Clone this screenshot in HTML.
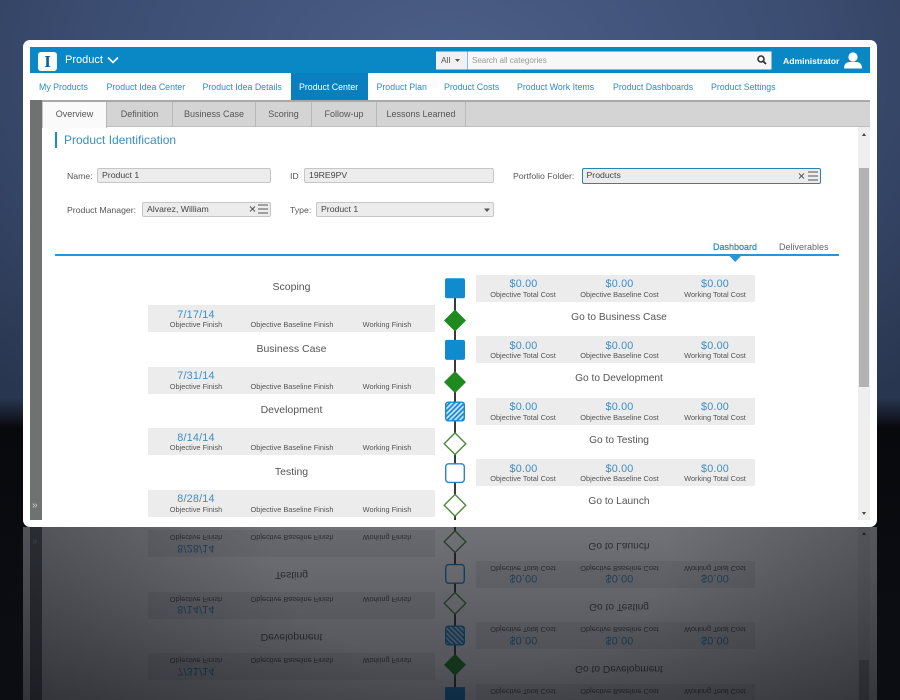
<!DOCTYPE html>
<html><head><meta charset="utf-8">
<style>
*{margin:0;padding:0;box-sizing:border-box}
html,body{width:900px;height:700px;overflow:hidden;background:#0a0c11}
body{font-family:"Liberation Sans",sans-serif}
#root{position:relative;width:900px;height:700px;overflow:hidden}
.a{position:absolute;white-space:nowrap}
#bg{position:absolute;left:0;top:0;width:900px;height:700px;background:linear-gradient(to bottom,rgba(8,9,13,0) 0,rgba(8,9,13,0) 398px,rgba(8,9,13,1) 428px,rgba(13,15,20,1) 700px),radial-gradient(ellipse 650px 430px at 450px 70px,#4c5f88 0%,#3c4d72 55%,#29364f 100%)}
.pw{position:absolute;left:0;top:0;width:900px;height:527px}
.frame{position:absolute;left:23px;top:40px;width:854px;height:487px;background:#fff;border-radius:7px}
.clip{position:absolute;left:0;top:0;width:900px;height:520px;overflow:hidden}
.nv{position:absolute;top:81px;font-size:8.8px;color:#2f8cc0;line-height:12px;white-space:nowrap}
.tb{position:absolute;top:102px;height:25px;font-size:9px;color:#555;line-height:24px;text-align:center;border-right:1px solid #b8b8b8;white-space:nowrap}
.fl{position:absolute;font-size:8.7px;color:#555;line-height:12px;white-space:nowrap}
.in{position:absolute;height:15px;background:#ececec;border:1px solid #c6c6c6;border-radius:2px;font-size:8.7px;color:#444;line-height:13px;padding-left:4px;white-space:nowrap}
.row{position:absolute;left:0;width:900px;height:0}
.ph{position:absolute;left:148px;width:287px;text-align:center;font-size:10.5px;color:#555;line-height:14px;height:14px}
.lb{position:absolute;left:148px;width:287px;height:27px;background:#ececec}
.cb{position:absolute;left:475.5px;width:279px;height:27px;background:#ececec}
.dt{position:absolute;width:100px;text-align:center;font-size:10.8px;color:#3d8fc2;line-height:12px;height:12px;letter-spacing:0.2px}
.sm{position:absolute;width:120px;text-align:center;font-size:7.4px;color:#555;line-height:9px;height:9px;white-space:nowrap}
.go{position:absolute;left:475px;width:288px;text-align:center;font-size:10.2px;color:#555;line-height:14px;height:14px}
.f{transform:scaleY(-1)}
</style></head>
<body>
<div id="root">
<div id="bg"></div>

<div class="pw" id="main">
  <div class="frame"></div>
  <!-- header -->
  <div class="a" style="left:30px;top:47px;width:840px;height:26px;background:#0a87c5"></div>
  <div class="a" style="left:38px;top:51.5px;width:19px;height:19px;background:#fff;border-radius:3px;text-align:center;font-family:'Liberation Serif',serif;font-weight:bold;font-size:17px;line-height:19px;color:#0b5f92">I</div>
  <div class="a" style="left:65px;top:53px;font-size:11px;line-height:14px;color:#fff">Product</div>
  <svg class="a" style="left:0;top:0" width="900" height="100">
    <polyline points="108,57.5 113,62.5 118,57.5" fill="none" stroke="#fff" stroke-width="1.6"/>
    <rect x="436" y="51.5" width="31" height="18" fill="#f1f1f1"/>
    <rect x="467.5" y="51.5" width="304" height="18" fill="#f7f7f7"/>
    <polygon points="455,59 460,59 457.5,62" fill="#555"/>
    <circle cx="761" cy="59" r="3" fill="none" stroke="#333" stroke-width="1.6"/>
    <line x1="763.2" y1="61.2" x2="766" y2="64" stroke="#333" stroke-width="1.8"/>
    <circle cx="853" cy="57" r="4.6" fill="#fff"/>
    <path d="M844 68.5 Q844 62.3 850 62 L856 62 Q862 62.3 862 68.5 Z" fill="#fff"/>
  </svg>
  <div class="a" style="left:441px;top:55px;font-size:8.5px;line-height:11px;color:#555">All</div>
  <div class="a" style="left:472px;top:55px;font-size:8px;line-height:11px;color:#999">Search all categories</div>
  <div class="a" style="left:783px;top:54.5px;font-size:8.6px;line-height:12px;color:#fff;font-weight:bold">Administrator</div>

  <!-- nav -->
  <div class="a" style="left:30px;top:73px;width:840px;height:27px;background:#fff"></div>
  <div class="a" style="left:290.5px;top:73px;width:77px;height:27.5px;background:#0a7fbf"></div>
  <div class="nv" style="left:39px">My Products</div>
  <div class="nv" style="left:106.5px">Product Idea Center</div>
  <div class="nv" style="left:202.5px">Product Idea Details</div>
  <div class="nv" style="left:299px;color:#fff">Product Center</div>
  <div class="nv" style="left:376.5px">Product Plan</div>
  <div class="nv" style="left:444px">Product Costs</div>
  <div class="nv" style="left:517px">Product Work Items</div>
  <div class="nv" style="left:613px">Product Dashboards</div>
  <div class="nv" style="left:711px">Product Settings</div>

  <div class="clip">
    <!-- tab row -->
    <div class="a" style="left:30px;top:100px;width:840px;height:2px;background:#a9a9a9"></div>
    <div class="a" style="left:42px;top:102px;width:828px;height:25px;background:#d4d4d4;border-bottom:1px solid #bdbdbd"></div>
    <div class="tb" style="left:42px;width:65px;background:#fafafa;height:26px;border-left:1px solid #c8c8c8">Overview</div>
    <div class="tb" style="left:107px;width:66px">Definition</div>
    <div class="tb" style="left:173px;width:83px">Business Case</div>
    <div class="tb" style="left:256px;width:56px">Scoring</div>
    <div class="tb" style="left:312px;width:65px">Follow-up</div>
    <div class="tb" style="left:377px;width:89px">Lessons Learned</div>
    <!-- sidebar -->
    <div class="a" style="left:30px;top:100px;width:12px;height:420px;background:#6e7270"></div>
    <div class="a" style="left:32px;top:500px;font-size:10px;line-height:12px;color:#d0d0d0">»</div>
    <!-- scrollbar -->
    <div class="a" style="left:858px;top:127px;width:12px;height:393px;background:#efefef"></div>
    <div class="a" style="left:859px;top:168px;width:10px;height:219px;background:#b3b3b3"></div>
    <svg class="a" style="left:858px;top:127px" width="12" height="393">
      <polygon points="4,9 8,9 6,6" fill="#444"/>
      <polygon points="4,385 8,385 6,388" fill="#444"/>
    </svg>

    <!-- heading -->
    <div class="a" style="left:54.5px;top:132px;width:2.5px;height:16px;background:#1a8ad0"></div>
    <div class="a" style="left:64px;top:132.5px;font-size:12px;line-height:15px;color:#3a8fc2">Product Identification</div>

    <!-- form -->
    <div class="fl" style="left:67px;top:170px">Name:</div>
    <div class="in" style="left:97px;top:168px;width:174px">Product 1</div>
    <div class="fl" style="left:290px;top:170px">ID</div>
    <div class="in" style="left:304px;top:168px;width:190px">19RE9PV</div>
    <div class="fl" style="left:513px;top:170px">Portfolio Folder:</div>
    <div class="in" style="left:581.5px;top:168px;width:239px;height:16px;border-color:#2c80b4">Products</div>
    <div class="fl" style="left:67px;top:203.5px">Product Manager:</div>
    <div class="in" style="left:142px;top:201.5px;width:129px">Alvarez, William</div>
    <div class="fl" style="left:290px;top:203.5px">Type:</div>
    <div class="in" style="left:316px;top:201.5px;width:178px">Product 1</div>
    <svg class="a" style="left:0;top:0" width="900" height="230">
      <g stroke="#555" stroke-width="1" fill="none">
        <line x1="250" y1="206.5" x2="255" y2="211.5"/><line x1="255" y1="206.5" x2="250" y2="211.5"/>
        <line x1="258" y1="205" x2="268" y2="205"/><line x1="258" y1="209" x2="268" y2="209"/><line x1="258" y1="213" x2="268" y2="213"/>
        <line x1="799" y1="173.5" x2="804" y2="178.5"/><line x1="804" y1="173.5" x2="799" y2="178.5"/>
        <line x1="808" y1="172" x2="818" y2="172"/><line x1="808" y1="176" x2="818" y2="176"/><line x1="808" y1="180" x2="818" y2="180"/>
      </g>
      <polygon points="484,208.5 490,208.5 487,212" fill="#555"/>
    </svg>

    <!-- dashboard tabs -->
    <div class="a" style="left:713px;top:240.5px;font-size:9px;line-height:12px;color:#2f8cc0;-webkit-text-stroke:0.25px #2f8cc0">Dashboard</div>
    <div class="a" style="left:779px;top:240.5px;font-size:9px;line-height:12px;color:#666">Deliverables</div>
    <div class="a" style="left:55px;top:254px;width:784px;height:2px;background:#2896d6"></div>
    <svg class="a" style="left:0;top:0" width="900" height="270"><polygon points="729,255.5 741.5,255.5 735.2,262" fill="#2896d6"/></svg>

    <!-- timeline rows -->
    <div class="row" style="top:0">
      <div class="ph" style="top:280px">Scoping</div>
      <div class="lb" style="top:305px"></div>
      <div class="dt" style="left:146px;top:308.5px">7/17/14</div>
      <div class="sm" style="left:136px;top:320px">Objective Finish</div>
      <div class="sm" style="left:232px;top:320px">Objective Baseline Finish</div>
      <div class="sm" style="left:327px;top:320px">Working Finish</div>
      <div class="cb" style="top:274.5px"></div>
      <div class="dt" style="left:473.5px;top:278px">$0.00</div>
      <div class="dt" style="left:569.5px;top:278px">$0.00</div>
      <div class="dt" style="left:665px;top:278px">$0.00</div>
      <div class="sm" style="left:463px;top:289.5px">Objective Total Cost</div>
      <div class="sm" style="left:559.5px;top:289.5px">Objective Baseline Cost</div>
      <div class="sm" style="left:655px;top:289.5px">Working Total Cost</div>
      <div class="go" style="top:310.5px">Go to Business Case</div>
    </div>
    <div class="row" style="top:61.6px">
      <div class="ph" style="top:280px">Business Case</div>
      <div class="lb" style="top:305px"></div>
      <div class="dt" style="left:146px;top:308.5px">7/31/14</div>
      <div class="sm" style="left:136px;top:320px">Objective Finish</div>
      <div class="sm" style="left:232px;top:320px">Objective Baseline Finish</div>
      <div class="sm" style="left:327px;top:320px">Working Finish</div>
      <div class="cb" style="top:274.5px"></div>
      <div class="dt" style="left:473.5px;top:278px">$0.00</div>
      <div class="dt" style="left:569.5px;top:278px">$0.00</div>
      <div class="dt" style="left:665px;top:278px">$0.00</div>
      <div class="sm" style="left:463px;top:289.5px">Objective Total Cost</div>
      <div class="sm" style="left:559.5px;top:289.5px">Objective Baseline Cost</div>
      <div class="sm" style="left:655px;top:289.5px">Working Total Cost</div>
      <div class="go" style="top:310.5px">Go to Development</div>
    </div>
    <div class="row" style="top:123.2px">
      <div class="ph" style="top:280px">Development</div>
      <div class="lb" style="top:305px"></div>
      <div class="dt" style="left:146px;top:308.5px">8/14/14</div>
      <div class="sm" style="left:136px;top:320px">Objective Finish</div>
      <div class="sm" style="left:232px;top:320px">Objective Baseline Finish</div>
      <div class="sm" style="left:327px;top:320px">Working Finish</div>
      <div class="cb" style="top:274.5px"></div>
      <div class="dt" style="left:473.5px;top:278px">$0.00</div>
      <div class="dt" style="left:569.5px;top:278px">$0.00</div>
      <div class="dt" style="left:665px;top:278px">$0.00</div>
      <div class="sm" style="left:463px;top:289.5px">Objective Total Cost</div>
      <div class="sm" style="left:559.5px;top:289.5px">Objective Baseline Cost</div>
      <div class="sm" style="left:655px;top:289.5px">Working Total Cost</div>
      <div class="go" style="top:310.5px">Go to Testing</div>
    </div>
    <div class="row" style="top:184.8px">
      <div class="ph" style="top:280px">Testing</div>
      <div class="lb" style="top:305px;height:27px"></div>
      <div class="dt" style="left:146px;top:308.5px">8/28/14</div>
      <div class="sm" style="left:136px;top:320px">Objective Finish</div>
      <div class="sm" style="left:232px;top:320px">Objective Baseline Finish</div>
      <div class="sm" style="left:327px;top:320px">Working Finish</div>
      <div class="cb" style="top:274.5px"></div>
      <div class="dt" style="left:473.5px;top:278px">$0.00</div>
      <div class="dt" style="left:569.5px;top:278px">$0.00</div>
      <div class="dt" style="left:665px;top:278px">$0.00</div>
      <div class="sm" style="left:463px;top:289.5px">Objective Total Cost</div>
      <div class="sm" style="left:559.5px;top:289.5px">Objective Baseline Cost</div>
      <div class="sm" style="left:655px;top:289.5px">Working Total Cost</div>
      <div class="go" style="top:310.5px">Go to Launch</div>
    </div>

    <!-- timeline nodes -->
    <svg class="a" style="left:0;top:0" width="900" height="520">
      <defs>
        <pattern id="h1" patternUnits="userSpaceOnUse" width="3.5" height="3.5" patternTransform="rotate(45)">
          <rect width="3.5" height="3.5" fill="#cde6f5"/><rect width="1.8" height="3.5" fill="#1a8ad0"/>
        </pattern>
      </defs>
      <line x1="455" y1="296" x2="455" y2="520" stroke="#3a3a3a" stroke-width="2"/>
      <rect x="445" y="278.3" width="20" height="20" rx="2" fill="#108bd0"/>
      <polygon points="455,309.5 466,320.5 455,331.5 444,320.5" fill="#1f8a1f"/>
      <rect x="445" y="339.9" width="20" height="20" rx="2" fill="#108bd0"/>
      <polygon points="455,371.1 466,382.1 455,393.1 444,382.1" fill="#1f8a1f"/>
      <rect x="445.7" y="402.2" width="18.6" height="18.6" rx="2.5" fill="url(#h1)" stroke="#1a8ad0" stroke-width="1.4"/>
      <polygon points="455,432.9 465.8,443.7 455,454.5 444.2,443.7" fill="#fff" stroke="#4b8b3b" stroke-width="1.4"/>
      <rect x="445.7" y="463.8" width="18.6" height="18.6" rx="3" fill="#fff" stroke="#2a86c0" stroke-width="1.4"/>
      <polygon points="455,494.5 465.8,505.3 455,516.1 444.2,505.3" fill="#fff" stroke="#4b8b3b" stroke-width="1.4"/>
    </svg>
  </div>
</div>

<!-- reflection (built in mirrored coordinates, local origin y=527) -->
<div class="a" style="left:0;top:527px;width:900px;height:173px;overflow:hidden">
  <div class="a" style="left:23px;top:0;width:854px;height:173px;background:#fff"></div>
  <div class="a" style="left:30px;top:0;width:12px;height:173px;background:#6e7270"></div>
  <div class="a f" style="left:32px;top:8px;font-size:10px;line-height:12px;height:12px;color:#d0d0d0">»</div>
  <div class="a" style="left:858px;top:0;width:12px;height:173px;background:#efefef"></div>
  <div class="a" style="left:859px;top:133px;width:10px;height:40px;background:#b3b3b3"></div>

  <!-- row Testing (i=3) -->
  <div class="lb" style="top:3.2px"></div>
  <div class="dt f" style="left:146px;top:14.7px">8/28/14</div>
  <div class="sm f" style="left:136px;top:6.2px">Objective Finish</div>
  <div class="sm f" style="left:232px;top:6.2px">Objective Baseline Finish</div>
  <div class="sm f" style="left:327px;top:6.2px">Working Finish</div>
  <div class="go f" style="top:10.7px">Go to Launch</div>
  <div class="ph f" style="top:41.2px">Testing</div>
  <div class="cb" style="top:33.7px"></div>
  <div class="dt f" style="left:473.5px;top:45.2px">$0.00</div>
  <div class="dt f" style="left:569.5px;top:45.2px">$0.00</div>
  <div class="dt f" style="left:665px;top:45.2px">$0.00</div>
  <div class="sm f" style="left:463px;top:36.7px">Objective Total Cost</div>
  <div class="sm f" style="left:559.5px;top:36.7px">Objective Baseline Cost</div>
  <div class="sm f" style="left:655px;top:36.7px">Working Total Cost</div>

  <!-- row Development (i=2) -->
  <div class="lb" style="top:64.8px"></div>
  <div class="dt f" style="left:146px;top:76.3px">8/14/14</div>
  <div class="sm f" style="left:136px;top:67.8px">Objective Finish</div>
  <div class="sm f" style="left:232px;top:67.8px">Objective Baseline Finish</div>
  <div class="sm f" style="left:327px;top:67.8px">Working Finish</div>
  <div class="go f" style="top:72.3px">Go to Testing</div>
  <div class="ph f" style="top:102.8px">Development</div>
  <div class="cb" style="top:95.3px"></div>
  <div class="dt f" style="left:473.5px;top:106.8px">$0.00</div>
  <div class="dt f" style="left:569.5px;top:106.8px">$0.00</div>
  <div class="dt f" style="left:665px;top:106.8px">$0.00</div>
  <div class="sm f" style="left:463px;top:98.3px">Objective Total Cost</div>
  <div class="sm f" style="left:559.5px;top:98.3px">Objective Baseline Cost</div>
  <div class="sm f" style="left:655px;top:98.3px">Working Total Cost</div>

  <!-- row Business Case (i=1), partial -->
  <div class="lb" style="top:126.4px"></div>
  <div class="dt f" style="left:146px;top:137.9px">7/31/14</div>
  <div class="sm f" style="left:136px;top:129.4px">Objective Finish</div>
  <div class="sm f" style="left:232px;top:129.4px">Objective Baseline Finish</div>
  <div class="sm f" style="left:327px;top:129.4px">Working Finish</div>
  <div class="go f" style="top:133.9px">Go to Development</div>
  <div class="cb" style="top:156.9px;height:16.1px"></div>
  <div class="sm f" style="left:463px;top:159.9px">Objective Total Cost</div>
  <div class="sm f" style="left:559.5px;top:159.9px">Objective Baseline Cost</div>
  <div class="sm f" style="left:655px;top:159.9px">Working Total Cost</div>

  <svg class="a" style="left:0;top:0" width="900" height="173">
    <defs>
      <pattern id="h2" patternUnits="userSpaceOnUse" width="3.5" height="3.5" patternTransform="rotate(-45)">
        <rect width="3.5" height="3.5" fill="#cde6f5"/><rect width="1.8" height="3.5" fill="#1a8ad0"/>
      </pattern>
    </defs>
    <line x1="455" y1="0" x2="455" y2="173" stroke="#3a3a3a" stroke-width="2"/>
    <polygon points="455,3.9 465.8,14.7 455,25.5 444.2,14.7" fill="#fff" stroke="#4b8b3b" stroke-width="1.4"/>
    <rect x="445.7" y="37.6" width="18.6" height="18.6" rx="3" fill="#fff" stroke="#2a86c0" stroke-width="1.4"/>
    <polygon points="455,65.5 465.8,76.3 455,87.1 444.2,76.3" fill="#fff" stroke="#4b8b3b" stroke-width="1.4"/>
    <rect x="445.7" y="99.2" width="18.6" height="18.6" rx="2.5" fill="url(#h2)" stroke="#1a8ad0" stroke-width="1.4"/>
    <polygon points="455,126.9 466,137.9 455,148.9 444,137.9" fill="#1f8a1f"/>
    <rect x="445" y="160.1" width="20" height="12.9" fill="#108bd0"/>
    <polygon points="862,8 866,8 864,5" fill="#444"/>
  </svg>

  <div class="a" style="left:23px;top:0;width:854px;height:173px;background:rgba(16,20,30,.6)"></div>
  <div class="a" style="left:0;top:0;width:900px;height:173px;background:linear-gradient(to bottom,rgba(10,12,18,0) 0%,rgba(10,12,18,.35) 100%)"></div>
  <div class="a" style="left:0;top:0;width:900px;height:173px;background:radial-gradient(ellipse 560px 300px at 470px 30px,rgba(10,12,18,0) 35%,rgba(10,12,18,.45) 100%)"></div>
</div>
</div>
</body></html>
